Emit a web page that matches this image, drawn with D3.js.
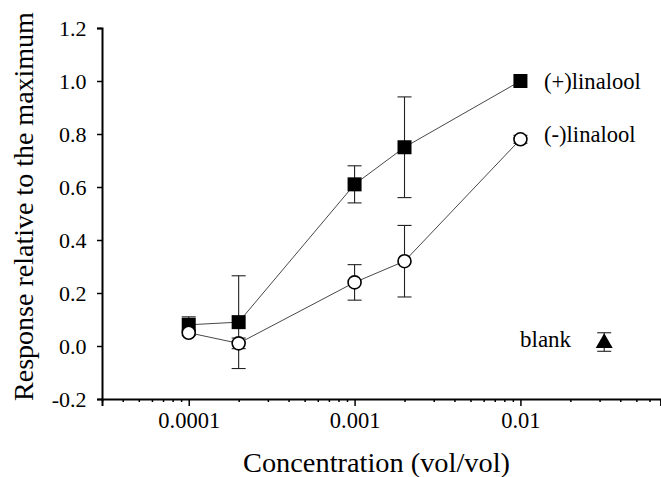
<!DOCTYPE html>
<html>
<head>
<meta charset="utf-8">
<script src="https://cdn.jsdelivr.net/npm/d3@7"></script>
<style>
  body { margin: 0; background: #fff; }
  svg text { font-family: "Liberation Serif", "Times New Roman", serif; fill: #000; }
</style>
</head>
<body>
<div id="chart"></div>
<script>
// concentrations (vol/vol)
var concentrations = [0.0001, 0.0002, 0.001, 0.002, 0.01];

// (+)linalool response and error
var plusValues = [0.08, 0.09, 0.61, 0.75, 1.0];
var plusErrors = [0.03, 0.175, 0.07, 0.19, 0.0];

// (-)linalool response and error
var minusValues = [0.05, 0.01, 0.24, 0.32, 0.78];
var minusErrors = [0.01, 0.02, 0.067, 0.135, 0.015];

// blank control
var blankConc = [0.032];
var blankValues = [0.015];
var blankErrors = [0.035];

var yTicks = [-0.2, 0.0, 0.2, 0.4, 0.6, 0.8, 1.0, 1.2];
var xMajorTicks = [0.0001, 0.001, 0.01];
var xTickLabels = ['0.0001', '0.001', '0.01'];

var width = 661;
var height = 477;

var svg = d3.select('#chart')
  .append('svg')
  .attr('width', width)
  .attr('height', height);

var x = d3.scaleLog()
  .domain([3e-5, 0.07])
  .range([102, 660.6]);

var y = d3.scaleLinear()
  .domain([-0.2, 1.2])
  .range([399, 28]);

//minor ticks on the log axis (2..9 of each decade)
var minorTicks = x.ticks().filter(function(d) {
  return xMajorTicks.every(function(m) { return Math.abs(d - m) / m > 1e-6; });
});

var xMinor = svg.append('g')
  .attr('transform', 'translate(0,' + y(-0.2) + ')')
  .call(d3.axisBottom(x).tickValues(minorTicks).tickSize(3).tickFormat(''));

var xMajor = svg.append('g')
  .attr('transform', 'translate(0,' + y(-0.2) + ')')
  .call(d3.axisBottom(x).tickValues(xMajorTicks).tickSize(7).tickPadding(6)
    .tickFormat(function(d, i) { return xTickLabels[i]; }));

var yAxis = svg.append('g')
  .attr('transform', 'translate(' + x.range()[0] + ',0)')
  .call(d3.axisLeft(y).tickValues(yTicks).tickSize(5).tickPadding(10.5)
    .tickFormat(function(d) { return d.toFixed(1); }));

[xMinor, xMajor, yAxis].forEach(function(g) {
  g.select('.domain').attr('stroke', '#000').attr('stroke-width', 2);
  g.selectAll('.tick line').attr('stroke', '#000').attr('stroke-width', 1.5);
  g.selectAll('.tick text').attr('font-family', '"Liberation Serif", serif');
});
xMinor.select('.domain').remove();
xMajor.selectAll('.tick text').attr('font-size', 22.5);
yAxis.selectAll('.tick text').attr('font-size', 22);

//axis titles
svg.append('text')
  .attr('x', 376.5)
  .attr('y', 472)
  .attr('text-anchor', 'middle')
  .attr('font-size', 27)
  .attr('textLength', 267)
  .attr('lengthAdjust', 'spacingAndGlyphs')
  .text('Concentration (vol/vol)');

svg.append('text')
  .attr('transform', 'translate(33,206.5) rotate(-90)')
  .attr('text-anchor', 'middle')
  .attr('font-size', 28)
  .text('Response relative to the maximum');

var series = [
  { name: 'plus', values: plusValues, errors: plusErrors },
  { name: 'minus', values: minusValues, errors: minusErrors }
];

var line = d3.line()
  .x(function(d) { return x(d.c); })
  .y(function(d) { return y(d.v); });

function points(s, conc) {
  return s.values.map(function(v, i) { return { c: conc[i], v: v, e: s.errors[i] }; });
}

//connecting lines
series.forEach(function(s) {
  svg.append('path')
    .datum(points(s, concentrations))
    .attr('d', line)
    .attr('fill', 'none')
    .attr('stroke', '#333')
    .attr('stroke-width', 0.9);
});

//error bars
function errorBars(data) {
  var g = svg.append('g').attr('stroke', '#222').attr('stroke-width', 1.1);
  data.filter(function(d) { return d.e > 0; }).forEach(function(d) {
    var cx = x(d.c);
    g.append('line').attr('x1', cx).attr('x2', cx).attr('y1', y(d.v + d.e)).attr('y2', y(d.v - d.e));
    g.append('line').attr('x1', cx - 7).attr('x2', cx + 7).attr('y1', y(d.v + d.e)).attr('y2', y(d.v + d.e));
    g.append('line').attr('x1', cx - 7).attr('x2', cx + 7).attr('y1', y(d.v - d.e)).attr('y2', y(d.v - d.e));
  });
}

var plusPts = points(series[0], concentrations);
var minusPts = points(series[1], concentrations);
var blankPts = blankValues.map(function(v, i) { return { c: blankConc[i], v: v, e: blankErrors[i] }; });

errorBars(plusPts);
errorBars(minusPts);
errorBars(blankPts);

//markers
svg.selectAll('rect.plus')
  .data(plusPts)
  .enter()
  .append('rect')
  .attr('class', 'plus')
  .attr('x', function(d) { return x(d.c) - 7; })
  .attr('y', function(d) { return y(d.v) - 7; })
  .attr('width', 14)
  .attr('height', 14)
  .attr('fill', '#000');

svg.selectAll('circle.minus')
  .data(minusPts)
  .enter()
  .append('circle')
  .attr('class', 'minus')
  .attr('cx', function(d) { return x(d.c); })
  .attr('cy', function(d) { return y(d.v); })
  .attr('r', 6.5)
  .attr('fill', '#fff')
  .attr('stroke', '#000')
  .attr('stroke-width', 1.6);

svg.selectAll('path.blank')
  .data(blankPts)
  .enter()
  .append('path')
  .attr('class', 'blank')
  .attr('d', d3.symbol().type(d3.symbolTriangle).size(125))
  .attr('transform', function(d) { return 'translate(' + x(d.c) + ',' + (y(d.v) + 1) + ')'; })
  .attr('fill', '#000');

//labels next to the data
svg.append('text').attr('x', 544).attr('y', 89).attr('font-size', 22.6).text('(+)linalool');
svg.append('text').attr('x', 544).attr('y', 142).attr('font-size', 22.6).text('(-)linalool');
svg.append('text').attr('x', 520).attr('y', 347).attr('font-size', 23).text('blank');
</script>
</body>
</html>
